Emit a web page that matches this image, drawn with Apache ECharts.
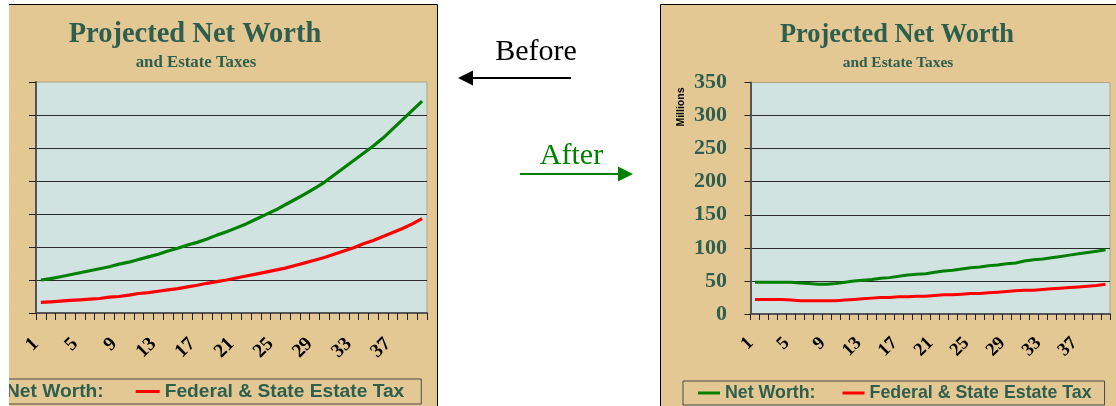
<!DOCTYPE html>
<html>
<head>
<meta charset="utf-8">
<script src="https://cdn.jsdelivr.net/npm/echarts@6/dist/echarts.min.js"></script>
<style>
html,body{margin:0;padding:0;background:#fff;}
#chart{width:1116px;height:406px;}
</style>
</head>
<body>
<div id="chart"></div>
<script>
// ---- data ----
var years = ['1','2','3','4','5','6','7','8','9','10','11','12','13','14','15','16','17','18','19','20',
             '21','22','23','24','25','26','27','28','29','30','31','32','33','34','35','36','37','38','39','40'];

var beforeNetWorth = [50,52,55,58,61,64,67,70,74,77,81,85,89,94,98,103,107,112,118,123,
                      129,135,142,149,156,164,172,180,189,198,209,220,231,242,253,265,279,293,307,321];
var beforeEstateTax = [16,17,18,19,20,21,22,24,25,27,29.5,31,33,35,37,39.5,42,45,47.5,50,
                       53,56,59,62,65,68,72,76,80,84,89,94,99,105,110,116,122,128,135,143];

var afterNetWorth = [48,48,48,48,48,47,46,45,45,46,48,50,51,52,54,55,57,59,60,61,
                     63,65,66,68,70,71,73,74,76,77,80,82,83,85,87,89,91,93,95,97];
var afterEstateTax = [22,22,22,22,21,20,20,20,20,20,21,22,23,24,25,25,26,26,27,27,
                      28,29,29,30,31,31,32,33,34,35,36,36,37,38,39,40,41,42,43,45];

var yTicks = {min: 0, max: 350, step: 50};
var seriesNames = ['Net Worth:', 'Federal & State Estate Tax'];
var titleText = 'Projected Net Worth';
var subtitleText = 'and Estate Taxes';

// ---- styling ----
var TAN = '#e3c894';
var PLOT = '#d1e3e0';
var DKGREEN = '#2e5e4e';
var GREEN = '#008000';
var RED = '#ff0000';

function makeX(idx, fs, tickLen, margin, pad) {
  return {
    type: 'category', gridIndex: idx, data: years, boundaryGap: true,
    axisLine: {show: true, lineStyle: {color: '#555', width: 2}},
    axisTick: {show: true, interval: 0, length: tickLen, lineStyle: {color: '#222', width: 1}},
    axisLabel: {interval: 3, rotate: 45, margin: margin, padding: [0, pad, 0, 0],
      color: '#000', fontFamily: 'Liberation Serif', fontWeight: 'bold', fontSize: fs},
    splitLine: {show: false}
  };
}
function makeY(idx, fs, tickLen, margin) {
  return {
    type: 'value', gridIndex: idx, min: yTicks.min, max: yTicks.max, interval: yTicks.step,
    axisLine: {show: true, lineStyle: {color: '#555', width: 2}},
    axisTick: {show: true, length: tickLen, lineStyle: {color: '#222', width: 1}},
    axisLabel: {margin: margin, color: DKGREEN, fontFamily: 'Liberation Serif', fontWeight: 'bold', fontSize: fs},
    splitLine: {show: true, showMaxLine: false, showMinLine: false, lineStyle: {color: '#2b2b2b', width: 1}}
  };
}
function makeLine(name, xi, data, color, w) {
  return {
    type: 'line', name: name, xAxisIndex: xi, yAxisIndex: xi, data: data,
    color: color, symbol: 'none', showSymbol: false, smooth: false,
    lineStyle: {color: color, width: w}
  };
}

var chart = echarts.init(document.getElementById('chart'), null, {renderer: 'canvas'});
var option = {
  animation: false,
  backgroundColor: '#ffffff',
  grid: [
    {left: 36, top: 82, width: 391, height: 231, show: true, backgroundColor: PLOT, borderColor: '#b3a584', borderWidth: 1,
     containLabel: false, outerBoundsMode: 'none'},
    {left: 750.5, top: 82.5, width: 359.5, height: 231.5, show: true, backgroundColor: PLOT, borderColor: '#b3a584', borderWidth: 1,
     containLabel: false, outerBoundsMode: 'none'}
  ],
  xAxis: [makeX(0, 19.5, 7, 23, 7), makeX(1, 18.5, 6, 22, 6)],
  yAxis: [makeY(0, 24, 7, 26), makeY(1, 22, 6, 23.5)],
  legend: [
    {left: -38, top: 379, width: 700, itemGap: 32, itemWidth: 24, itemHeight: 3, icon: 'rect',
     padding: [3, 17, 3, 15], borderColor: '#4a4a4a', borderWidth: 1, selectedMode: false,
     textStyle: {fontFamily: 'Liberation Sans', fontWeight: 'bold', fontSize: 19.2, color: DKGREEN},
     data: seriesNames},
    {left: 683, top: 381, width: 600, itemGap: 27, itemWidth: 22, itemHeight: 3, icon: 'rect',
     padding: [3, 13, 3, 15], borderColor: '#4a4a4a', borderWidth: 1, selectedMode: false,
     textStyle: {fontFamily: 'Liberation Sans', fontWeight: 'bold', fontSize: 17.8, color: DKGREEN},
     data: seriesNames}
  ],
  series: [
    makeLine(seriesNames[0], 0, beforeNetWorth, GREEN, 3.2),
    makeLine(seriesNames[1], 0, beforeEstateTax, RED, 3.2),
    makeLine(seriesNames[0], 1, afterNetWorth, GREEN, 3),
    makeLine(seriesNames[1], 1, afterEstateTax, RED, 3)
  ],
  graphic: [
    // panels
    {type: 'rect', z: -10, silent: true, shape: {x: -5.5, y: 4.5, width: 443, height: 430},
     style: {fill: TAN, stroke: '#000', lineWidth: 1}},
    {type: 'rect', z: -10, silent: true, shape: {x: 660.5, y: 4.5, width: 470, height: 430},
     style: {fill: TAN, stroke: '#000', lineWidth: 1}},
    // titles
    {type: 'text', z: 10, silent: true, x: 195, y: 35,
     style: {text: titleText, fill: DKGREEN, font: 'bold 28.5px "Liberation Serif"', textAlign: 'center', textVerticalAlign: 'middle'}},
    {type: 'text', z: 10, silent: true, x: 196, y: 63,
     style: {text: subtitleText, fill: DKGREEN, font: 'bold 16.8px "Liberation Serif"', textAlign: 'center', textVerticalAlign: 'middle'}},
    {type: 'text', z: 10, silent: true, x: 897, y: 35,
     style: {text: titleText, fill: DKGREEN, font: 'bold 26.4px "Liberation Serif"', textAlign: 'center', textVerticalAlign: 'middle'}},
    {type: 'text', z: 10, silent: true, x: 898, y: 63,
     style: {text: subtitleText, fill: DKGREEN, font: 'bold 15.4px "Liberation Serif"', textAlign: 'center', textVerticalAlign: 'middle'}},
    // Millions
    {type: 'text', z: 10, silent: true, x: 681, y: 107, rotation: Math.PI / 2,
     style: {text: 'Millions', fill: '#000', font: 'bold 10.5px "Liberation Sans"', textAlign: 'center', textVerticalAlign: 'middle'}},
    // Before / After annotations
    {type: 'text', z: 10, silent: true, x: 536, y: 52,
     style: {text: 'Before', fill: '#000', font: '30px "Liberation Serif"', textAlign: 'center', textVerticalAlign: 'middle'}},
    {type: 'line', z: 10, silent: true, shape: {x1: 571, y1: 78, x2: 470, y2: 78}, style: {stroke: '#000', lineWidth: 2}},
    {type: 'polygon', z: 10, silent: true, shape: {points: [[458, 78], [473, 70.5], [473, 85.5]]}, style: {fill: '#000'}},
    {type: 'text', z: 10, silent: true, x: 571.5, y: 156,
     style: {text: 'After', fill: GREEN, font: '30px "Liberation Serif"', textAlign: 'center', textVerticalAlign: 'middle'}},
    {type: 'line', z: 10, silent: true, shape: {x1: 520, y1: 174, x2: 620, y2: 174}, style: {stroke: GREEN, lineWidth: 2}},
    {type: 'polygon', z: 10, silent: true, shape: {points: [[633, 174], [618, 166.5], [618, 181.5]]}, style: {fill: GREEN}},
    // crop mask on the left edge of the "before" panel
    {type: 'rect', z: 100, silent: true, shape: {x: 0, y: 0, width: 9, height: 406}, style: {fill: '#fff'}}
  ]
};
chart.setOption(option);
</script>
</body>
</html>
